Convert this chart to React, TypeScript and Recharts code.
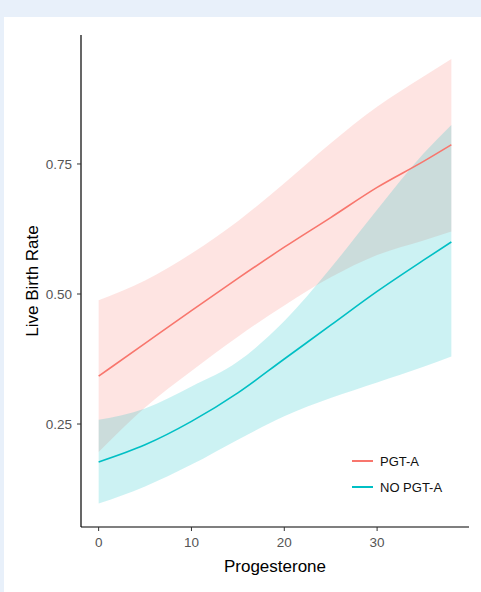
import React from "react";
import {
    ComposedChart,
    Area,
    Line,
    XAxis,
    YAxis,
    Legend,
} from "recharts";

// values
const progesterone = [0, 5, 10, 15, 20, 25, 30, 35, 38];

const pgtFit = [0.342, 0.405, 0.468, 0.53, 0.59, 0.647, 0.705, 0.755, 0.787];
const pgtLow = [0.196, 0.282, 0.352, 0.418, 0.478, 0.532, 0.575, 0.603, 0.62];
const pgtHigh = [0.488, 0.526, 0.578, 0.64, 0.713, 0.79, 0.86, 0.918, 0.952];

const noPgtFit = [0.177, 0.21, 0.255, 0.31, 0.375, 0.44, 0.505, 0.565, 0.6];
const noPgtLow = [0.097, 0.13, 0.172, 0.22, 0.265, 0.3, 0.33, 0.36, 0.38];
const noPgtHigh = [0.258, 0.28, 0.322, 0.37, 0.448, 0.55, 0.662, 0.77, 0.825];

const xTicks = [0, 10, 20, 30];
const yTicks = [0.25, 0.5, 0.75];

const legendItems = [
    { label: "PGT-A", color: "#F8766D" },
    { label: "NO PGT-A", color: "#00BFC4" },
];

const data = progesterone.map((p, i) => ({
    p,
    pgt: pgtFit[i],
    pgtBand: [pgtLow[i], pgtHigh[i]],
    noPgt: noPgtFit[i],
    noPgtBand: [noPgtLow[i], noPgtHigh[i]],
}));

const font = "'Liberation Sans', Arial, sans-serif";

function LegendBox() {
    return (
        <div style={{ fontFamily: font, fontSize: 13, color: "#111" }}>
            {legendItems.map((item) => (
                <div key={item.label} style={{ display: "flex", alignItems: "center", height: 26 }}>
                    <div style={{ width: 21, height: 2, background: item.color, marginRight: 7 }} />
                    <span>{item.label}</span>
                </div>
            ))}
        </div>
    );
}

export default function App() {
    return (
        <div style={{ position: "relative", width: 481, height: 592, background: "#e8f0fa", fontFamily: font }}>
            <style>{`body{margin:0}`}</style>
            <div style={{ position: "absolute", left: 4, top: 17, width: 477, height: 575, background: "#fff" }} />
            <div style={{ position: "absolute", left: 0, top: 0 }}>
                <ComposedChart
                    width={481}
                    height={592}
                    data={data}
                    margin={{ top: 35, right: 12, left: 0, bottom: 0 }}
                >
                    <XAxis
                        dataKey="p"
                        type="number"
                        domain={[-1.9, 39.9]}
                        ticks={xTicks}
                        height={65}
                        axisLine={{ stroke: "#000", strokeWidth: 1.2 }}
                        tickLine={{ stroke: "#333" }}
                        tickSize={4}
                        tickMargin={6}
                        tick={{ fill: "#555", fontSize: 13.5 }}
                        label={{ value: "Progesterone", position: "insideBottom", offset: 20, fill: "#000", fontSize: 17 }}
                    />
                    <YAxis
                        type="number"
                        domain={[0.052, 0.998]}
                        ticks={yTicks}
                        width={81}
                        axisLine={{ stroke: "#000", strokeWidth: 1.2 }}
                        tickLine={{ stroke: "#333" }}
                        tickSize={4}
                        tickMargin={5}
                        tick={{ fill: "#555", fontSize: 13.5 }}
                        tickFormatter={(v: number) => v.toFixed(2)}
                        label={{
                            value: "Live Birth Rate",
                            angle: -90,
                            position: "insideLeft",
                            offset: 32,
                            fill: "#000",
                            fontSize: 17,
                            style: { textAnchor: "middle" },
                        }}
                    />
                    <Legend
                        layout="vertical"
                        align="center"
                        verticalAlign="middle"
                        wrapperStyle={{ left: 352, top: 448, width: 120 }}
                        content={() => <LegendBox />}
                    />
                    <Area
                        dataKey="pgtBand"
                        type="monotone"
                        stroke="none"
                        fill="#F8766D"
                        fillOpacity={0.2}
                        isAnimationActive={false}
                        activeDot={false}
                        legendType="none"
                    />
                    <Line
                        dataKey="pgt"
                        type="monotone"
                        stroke="#F8766D"
                        strokeWidth={1.6}
                        dot={false}
                        isAnimationActive={false}
                    />
                    <Area
                        dataKey="noPgtBand"
                        type="monotone"
                        stroke="none"
                        fill="#00BFC4"
                        fillOpacity={0.2}
                        isAnimationActive={false}
                        activeDot={false}
                        legendType="none"
                    />
                    <Line
                        dataKey="noPgt"
                        type="monotone"
                        stroke="#00BFC4"
                        strokeWidth={1.6}
                        dot={false}
                        isAnimationActive={false}
                    />
                </ComposedChart>
            </div>
        </div>
    );
}
